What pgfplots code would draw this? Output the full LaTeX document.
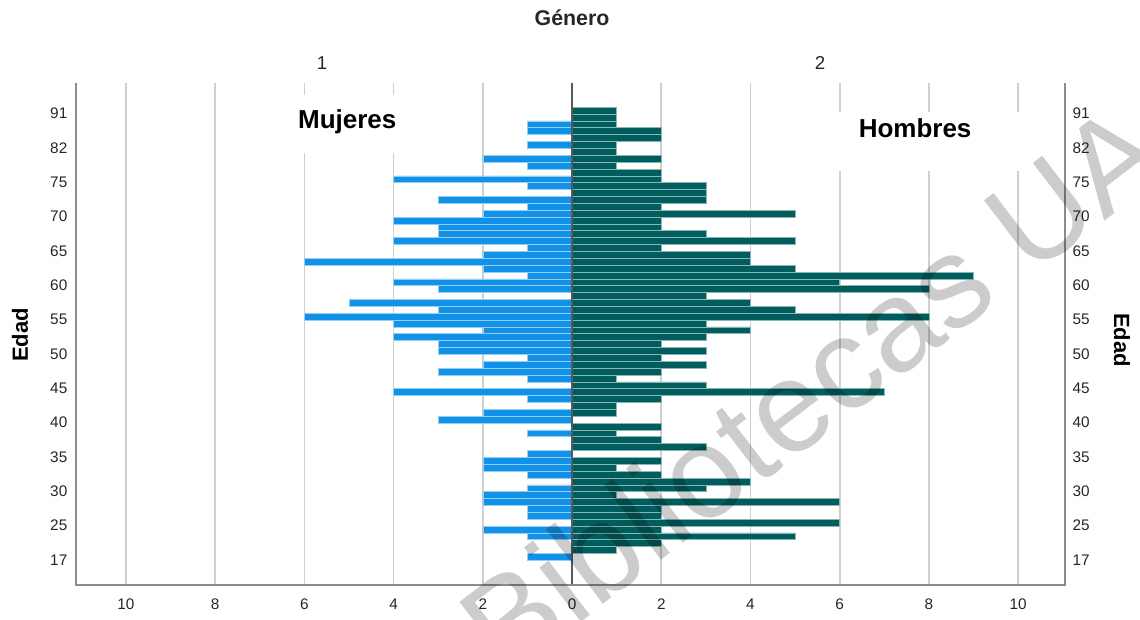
\documentclass[border=0pt]{standalone}
\usepackage{pgfplots}
\pgfplotsset{compat=1.18}
\usepackage{pgfplotstable}
\usepackage{fontspec}
\setmainfont{Liberation Sans}
\definecolor{mujer}{HTML}{1192E8}
\definecolor{hombre}{HTML}{005D5D}
\definecolor{gridc}{HTML}{D0D0D0}
\definecolor{axc}{HTML}{8C8C8C}
% idx 0 = edad 17 (abajo) ... idx 65 = edad 91 (arriba)
\pgfplotstableread{
idx mujeres hombres
0 1 0
1 0 1
2 0 2
3 1 5
4 2 2
5 0 6
6 1 2
7 1 2
8 2 6
9 2 1
10 1 3
11 0 4
12 1 2
13 2 1
14 2 2
15 1 0
16 0 3
17 0 2
18 1 1
19 0 2
20 3 0
21 2 1
22 0 1
23 1 2
24 4 7
25 0 3
26 1 1
27 3 2
28 2 3
29 1 2
30 3 3
31 3 2
32 4 3
33 2 4
34 4 3
35 6 8
36 3 5
37 5 4
38 0 3
39 3 8
40 4 6
41 1 9
42 2 5
43 6 4
44 2 4
45 1 2
46 4 5
47 3 3
48 3 2
49 4 2
50 2 5
51 1 2
52 3 3
53 0 3
54 1 3
55 4 2
56 0 2
57 1 1
58 2 2
59 0 1
60 1 1
61 0 2
62 1 2
63 1 1
64 0 1
65 0 1
}\datos
\begin{document}
\begin{tikzpicture}
\useasboundingbox (-57pt,-26.25pt) rectangle (798pt,438.75pt);
\begin{axis}[
  at={(0pt,0pt)}, anchor=south west,
  scale only axis, width=741.75pt, height=376.5pt,
  xmin=-11.12, xmax=11.05, ymin=-4.08, ymax=69.03,
  axis line style={draw=none},
  major tick length=0pt,
  xtick={-10,-8,-6,-4,-2,0,2,4,6,8,10},
  xticklabels={10,8,6,4,2,0,2,4,6,8,10},
  ytick={0,5,...,65},
  yticklabels={17,25,30,35,40,45,50,55,60,65,70,75,82,91},
  tick label style={font=\fontsize{11.5}{13}\selectfont, text=black!85},
  xticklabel style={yshift=-7pt},
  yticklabel style={xshift=-3pt, yshift=-2.3pt},
  xmajorgrids,
  major grid style={draw=gridc, line width=1.3pt},
  xbar, bar width=1, bar shift=0pt,
  clip=false,
]
\addplot[fill=mujer, draw=mujer!45!white, line width=0.5pt] table[x expr=-\thisrow{mujeres}, y=idx] {\datos};
\addplot[fill=hombre, draw=hombre!45!white, line width=0.5pt] table[x=hombres, y=idx] {\datos};
\fill[white] (axis cs:-6.55,58.84) rectangle (axis cs:-3.63,67.29);
\fill[white] (axis cs:5.74,56.2) rectangle (axis cs:10.27,64.8);
\node[font=\fontsize{19.5}{23}\bfseries\selectfont, inner sep=0pt] at (axis cs:-5.04,63.4) {Mujeres};
\node[font=\fontsize{19.5}{23}\bfseries\selectfont, inner sep=0pt] at (axis cs:7.69,62.5) {Hombres};
\draw[black!65, line width=1.1pt] (axis cs:0,-4.08) -- (axis cs:0,69.03);
\draw[axc, line width=1.1pt] (rel axis cs:0,1) -- (rel axis cs:0,0) -- (rel axis cs:1,0) -- (rel axis cs:1,1);
\end{axis}
\begin{axis}[
  at={(0pt,0pt)}, anchor=south west,
  scale only axis, width=741.75pt, height=376.5pt,
  xmin=-11.12, xmax=11.05, ymin=-4.08, ymax=69.03,
  axis line style={draw=none},
  major tick length=0pt,
  xtick=\empty,
  ytick={0,5,...,65},
  yticklabels={17,25,30,35,40,45,50,55,60,65,70,75,82,91},
  yticklabel pos=right,
  tick label style={font=\fontsize{11.5}{13}\selectfont, text=black!85},
  yticklabel style={xshift=2.2pt, yshift=-2.3pt},
]
\addplot[draw=none] coordinates {(0,0)};
\end{axis}
\node[font=\fontsize{16}{19}\bfseries\selectfont, text=black!85] at (372pt,425.25pt) {Género};
\node[font=\fontsize{14}{17}\selectfont, text=black!85] at (184.5pt,391.5pt) {1};
\node[font=\fontsize{14}{17}\selectfont, text=black!85] at (558pt,391.5pt) {2};
\node[font=\fontsize{16.5}{19}\bfseries\selectfont, rotate=90] at (-42pt,187.5pt) {Edad};
\node[font=\fontsize{16.5}{19}\bfseries\selectfont, rotate=-90] at (784.5pt,183.75pt) {Edad};
% marca de agua
\node[font=\fontsize{97}{97}\selectfont, text=black, opacity=0.2, rotate=37.4, anchor=base west, inner sep=0pt] at (322pt,-71pt) {Bibliotecas UA};
\end{tikzpicture}
\end{document}
